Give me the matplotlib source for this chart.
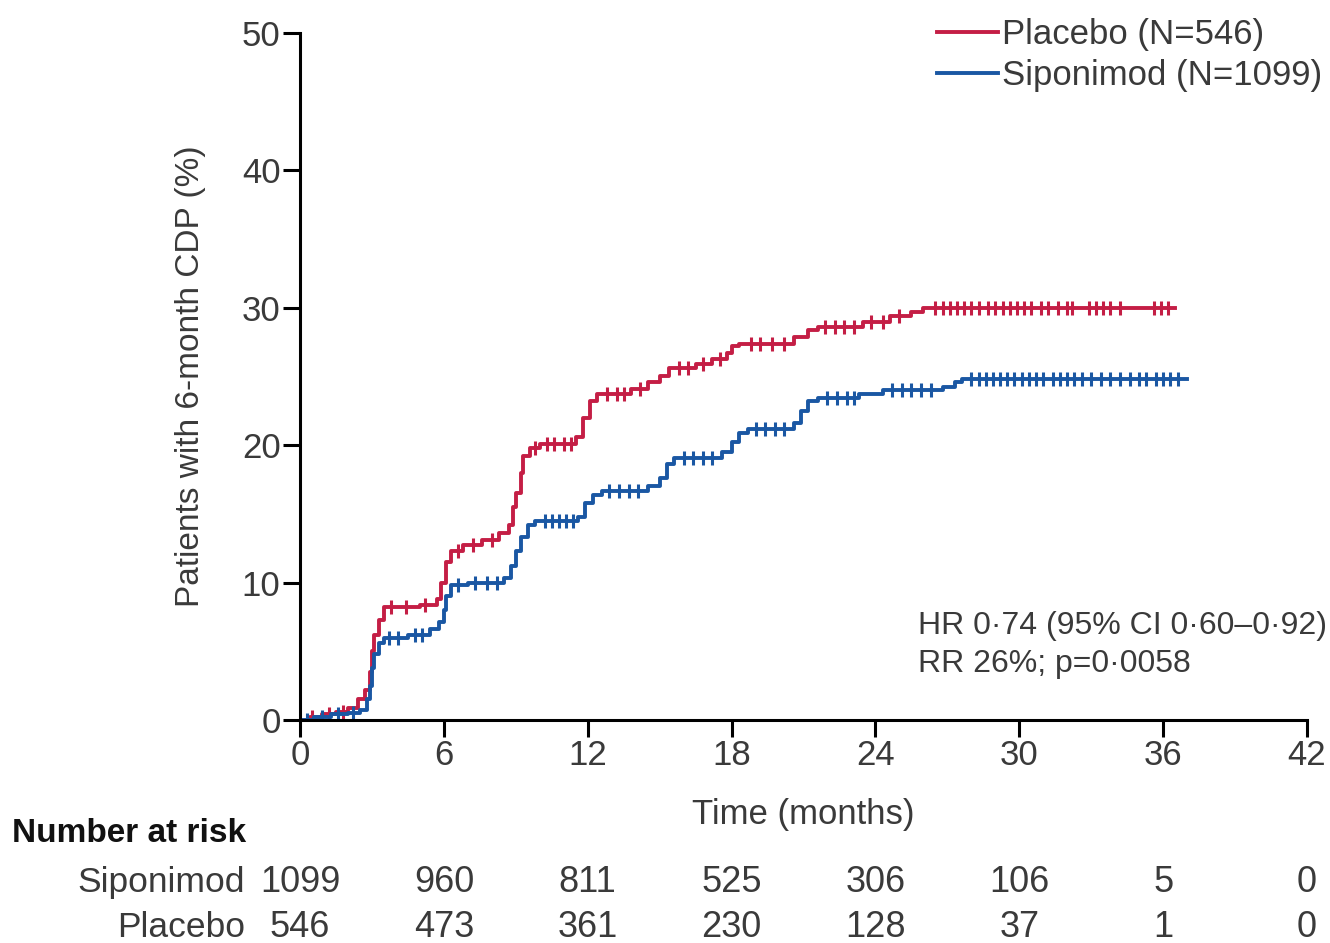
"""Cumulative incidence of 6-month CDP, siponimod vs placebo, with number-at-risk table."""

import matplotlib

matplotlib.use("Agg")
import matplotlib.pyplot as plt
import matplotlib.transforms as mtransforms
import numpy as np

plt.rcParams["font.family"] = ["Liberation Sans Narrow", "Liberation Sans", "DejaVu Sans"]

TEXT = "#3a3a3a"
RED = "#c41e45"
BLUE = "#1a57a3"

# event steps: (months, cumulative %)
placebo_t = [0, 0.4, 0.9, 1.5, 2.0, 2.4, 2.7, 2.9, 3.0, 3.1, 3.3, 3.5, 5.0, 5.7, 5.9, 6.1,
             6.3, 6.8, 7.6, 8.3, 8.7, 8.9, 9.0, 9.2, 9.3, 9.6, 10.0, 11.5, 11.8, 12.1, 12.4,
             13.8, 14.5, 15.0, 15.4, 16.5, 17.2, 17.8, 18.0, 18.3, 20.6, 21.2, 21.6, 23.5,
             24.6, 25.5, 26.0, 36.5]
placebo_y = [0, 0.2, 0.4, 0.6, 0.9, 1.5, 2.2, 3.5, 5.0, 6.2, 7.3, 8.2, 8.4, 8.8, 10.0, 11.5,
             12.3, 12.7, 13.1, 13.6, 14.2, 15.5, 16.5, 18.0, 19.2, 19.8, 20.1, 20.6, 22.0, 23.2,
             23.7, 24.1, 24.6, 25.0, 25.6, 25.9, 26.3, 26.7, 27.2, 27.4, 27.9, 28.4, 28.6, 29.0,
             29.4, 29.7, 30.0, 30.0]

sipo_t = [0, 0.6, 1.3, 2.0, 2.5, 2.8, 2.9, 3.0, 3.1, 3.3, 3.5, 4.5, 5.4, 5.8, 6.0, 6.1, 6.3,
          7.0, 8.5, 8.8, 9.0, 9.2, 9.5, 9.8, 11.6, 11.9, 12.2, 12.6, 14.5, 15.0, 15.3, 15.6,
          17.6, 18.0, 18.3, 18.7, 20.6, 20.9, 21.2, 21.6, 23.3, 24.3, 26.8, 27.3, 27.6, 37.0]
sipo_y = [0, 0.2, 0.4, 0.5, 0.7, 1.5, 2.5, 3.8, 4.8, 5.6, 6.0, 6.2, 6.6, 7.1, 8.0, 9.0, 9.8,
          10.0, 10.3, 11.2, 12.3, 13.3, 14.2, 14.5, 14.8, 15.8, 16.4, 16.7, 17.0, 17.6, 18.6,
          19.1, 19.5, 20.2, 20.9, 21.2, 21.6, 22.5, 23.2, 23.4, 23.7, 24.0, 24.2, 24.6, 24.8,
          24.8]

# censoring ticks (months)
placebo_cens = [0.5, 1.2, 1.8, 3.8, 4.4, 5.2, 6.6, 7.2, 8.0, 9.8, 10.3, 10.6, 11.0, 11.3,
                12.8, 13.2, 13.5, 14.2, 15.8, 16.2, 16.8, 17.5, 18.8, 19.2, 19.7, 20.2, 21.9,
                22.3, 22.7, 23.1, 23.8, 24.3, 25.0, 26.5, 26.8, 27.1, 27.4, 27.7, 28.0, 28.3,
                28.7, 29.0, 29.3, 29.6, 29.9, 30.2, 30.5, 30.9, 31.2, 31.6, 32.0, 32.2, 32.9,
                33.2, 33.5, 33.8, 34.2, 35.6, 35.9, 36.2]
sipo_cens = [0.3, 0.9, 1.6, 2.2, 3.7, 4.1, 4.8, 5.1, 6.6, 7.3, 7.8, 8.2, 10.2, 10.5, 10.8,
             11.1, 11.4, 12.9, 13.3, 13.7, 14.1, 16.0, 16.4, 16.8, 17.2, 19.0, 19.4, 19.8,
             20.2, 22.0, 22.4, 22.8, 23.1, 24.7, 25.1, 25.5, 25.9, 26.3, 28.0, 28.3, 28.6,
             28.9, 29.2, 29.5, 29.8, 30.1, 30.4, 30.7, 31.0, 31.4, 31.7, 32.0, 32.3, 32.6,
             33.0, 33.4, 33.8, 34.2, 34.6, 35.0, 35.3, 35.7, 36.0, 36.3, 36.6]

risk_times = [0, 6, 12, 18, 24, 30, 36, 42]
risk_sipo = [1099, 960, 811, 525, 306, 106, 5, 0]
risk_placebo = [546, 473, 361, 230, 128, 37, 1, 0]


def _step_value(ts, ys, x):
    idx = np.searchsorted(ts, x, side="right") - 1
    return np.asarray(ys)[idx]


fig = plt.figure(figsize=(13.3, 9.43), dpi=100)
ax = fig.add_axes([0.2256, 0.2365, 0.7571, 0.7285])

for ts, ys, cens, col, lab in [
    (placebo_t, placebo_y, placebo_cens, RED, "Placebo (N=546)"),
    (sipo_t, sipo_y, sipo_cens, BLUE, "Siponimod (N=1099)"),
]:
    ax.step(ts, ys, where="post", color=col, lw=2.8, label=lab)
    ax.plot(cens, _step_value(ts, ys, cens), ls="none", marker="|",
            ms=10, mew=2.2, color=col)

ax.set_xlim(0, 42)
ax.set_ylim(0, 50)
ax.set_xticks(risk_times)
ax.set_yticks([0, 10, 20, 30, 40, 50])
for s in ["top", "right"]:
    ax.spines[s].set_visible(False)
for s in ["left", "bottom"]:
    ax.spines[s].set_linewidth(2.2)
    ax.spines[s].set_clip_on(False)
ax.tick_params(length=12, width=2.2, labelsize=25, labelcolor=TEXT, pad=2)

ax.set_xlabel("Time (months)", fontsize=25, color=TEXT)
ax.xaxis.set_label_coords(0.5, -0.113)
ax.set_ylabel("Patients with 6-month CDP (%)", fontsize=24, color=TEXT)
ax.yaxis.set_label_coords(-0.093, 0.5)

leg = ax.legend(loc="upper right", bbox_to_anchor=(1.046, 1.067), frameon=False,
                fontsize=25, handlelength=1.75, handletextpad=0.12, labelspacing=0.22)
for t in leg.get_texts():
    t.set_color(TEXT)

ax.text(0.614, 0.109, "HR 0·74 (95% CI 0·60–0·92)\nRR 26%; p=0·0058",
        transform=ax.transAxes, fontsize=23, color=TEXT, ha="left", va="center",
        linespacing=1.35)

# number at risk table
trans = mtransforms.blended_transform_factory(ax.transData, ax.transAxes)
fig.text(0.009, 1 - 833 / 943, "Number at risk", fontsize=24, fontweight="bold",
         color="#111111", ha="left", va="center")
for row_y, name, vals in [(-0.237, "Siponimod", risk_sipo), (-0.302, "Placebo", risk_placebo)]:
    fig.text(0.184, ax.transAxes.transform((0, row_y))[1] / fig.bbox.height, name,
             fontsize=25.5, color=TEXT, ha="right", va="center")
    for t, v in zip(risk_times, vals):
        ax.text(t, row_y, str(v), transform=trans, fontsize=26, color=TEXT,
                ha="center", va="center", clip_on=False)

fig.savefig("out.png", dpi=100)
